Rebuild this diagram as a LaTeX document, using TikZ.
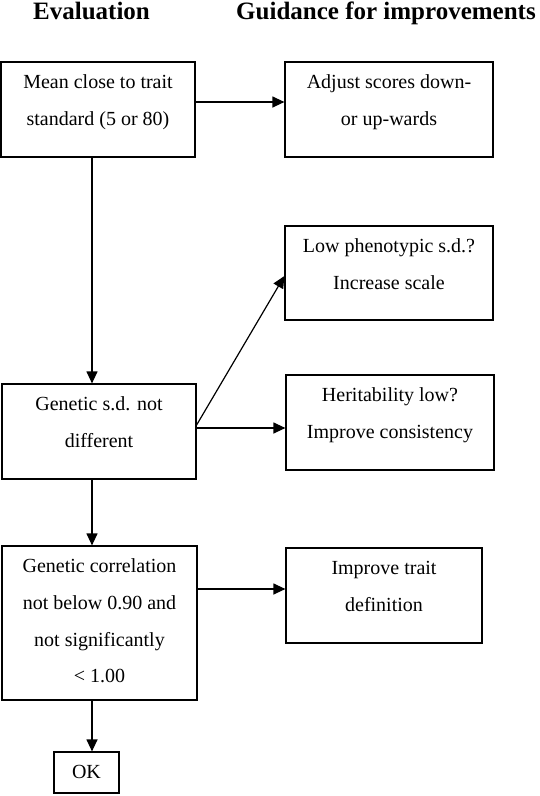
\documentclass[tikz,border=0pt]{standalone}
\usepackage{fontspec}
\setmainfont{Liberation Serif}
\usetikzlibrary{arrows.meta}
\newcommand{\tstrut}{\rule{0pt}{27pt}}
\tikzset{
  box/.style={draw, line width=1.2pt, inner sep=0pt, minimum width=#1},
  txt/.style={inner sep=0pt, align=center, anchor=north, font=\fontsize{20}{36.7}\selectfont},
  head/.style={inner sep=0pt, anchor=base, font=\fontsize{25}{30}\selectfont\bfseries},
  arr/.style={line width=1.2pt, -{Triangle[length=12pt,width=11pt]}}
}
\begin{document}
\begin{tikzpicture}[x=1pt,y=-1pt]
\useasboundingbox (0,0) rectangle (540,796);
% headers
\node[head] (h1) at (91.5,19.5) {Evaluation};
\node[head] (h2) at (386,19.5) {Guidance for improvements};
% boxes
\node[box=194pt, minimum height=95pt] (b1) at (98,109.5) {};
\node[box=208pt, minimum height=95pt] (b2) at (389,109.5) {};
\node[box=208pt, minimum height=94pt] (b3) at (389,273) {};
\node[box=194pt, minimum height=95pt] (b4) at (99,431.5) {};
\node[box=208pt, minimum height=95pt] (b5) at (390,422.5) {};
\node[box=195pt, minimum height=154pt] (b6) at (99.5,623) {};
\node[box=196pt, minimum height=95pt] (b7) at (384,595.5) {};
\node[box=65pt, minimum height=41pt] (ok) at (86.5,772.5) {};
% texts
\node[txt] (t1) at (b1.north) {\tstrut Mean close to trait\\standard (5 or 80)};
\node[txt] (t2) at (b2.north) {\tstrut Adjust scores down-\\or up-wards};
\node[txt] (t3) at (b3.north) {\tstrut Low phenotypic s.d.?\\Increase scale};
\node[txt] (t4) at (b4.north) {\tstrut Genetic s.d. not\\different};
\node[txt] (t5) at (b5.north) {\tstrut Heritability low?\\Improve consistency};
\node[txt] (t6) at (b6.north) {\tstrut Genetic correlation\\not below 0.90 and\\not significantly\\< 1.00};
\node[txt] (t7) at (b7.north) {\tstrut Improve trait\\definition};
\node[txt] (t8) at (ok.north) {\tstrut OK};
% connectors
\coordinate (vx) at (92,0);
\draw[arr] (b1.south -| vx) -- (b4.north -| vx);
\draw[arr] (b4.south -| vx) -- (b6.north -| vx);
\draw[arr] (b6.south -| vx) -- (ok.north -| vx);
\coordinate (a12) at ([yshift=7.5pt]b1.east);
\draw[arr] (a12) -- (a12 -| b2.west);
\coordinate (a45) at ([yshift=3.5pt]b4.east);
\draw[arr] (a45) -- (a45 -| b5.west);
\coordinate (a43) at ([yshift=6.5pt]b4.east);
\draw[arr] (a43) -- ([yshift=-3pt]b3.west);
\coordinate (a67) at ([yshift=34pt]b6.east);
\draw[arr] (a67) -- (a67 -| b7.west);
\end{tikzpicture}
\end{document}
